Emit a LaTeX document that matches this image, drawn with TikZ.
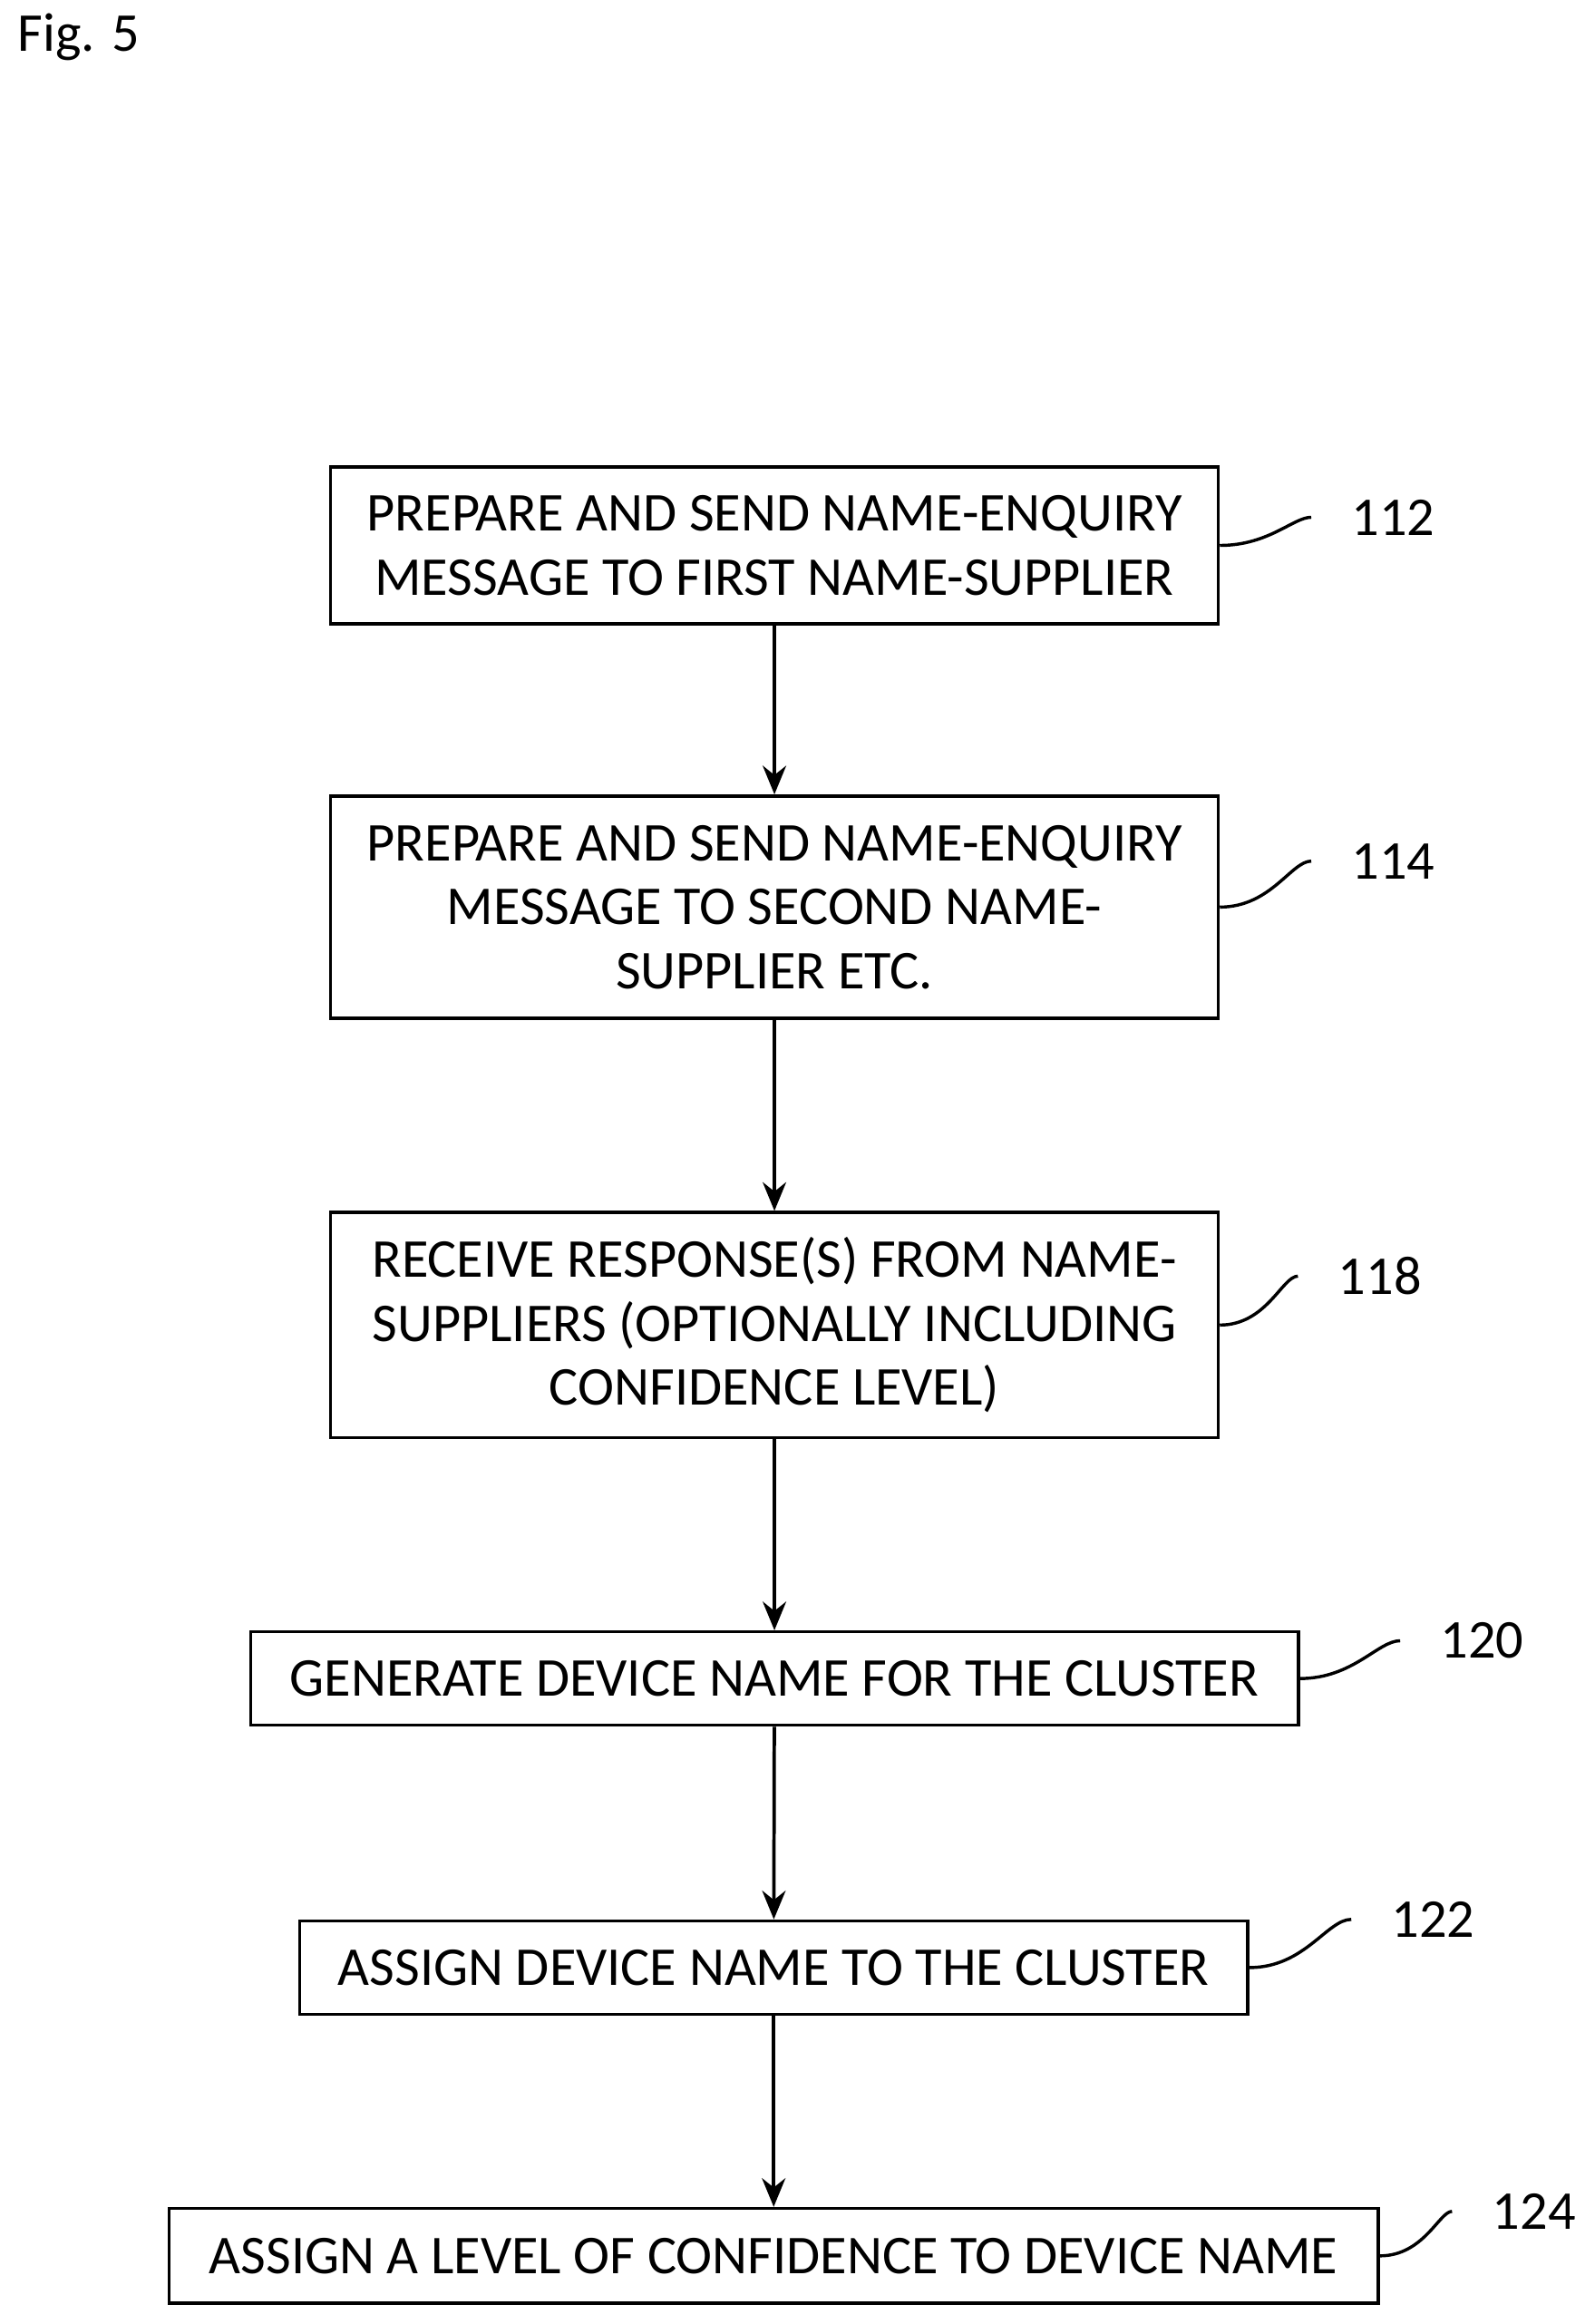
\documentclass[tikz,border=0pt]{standalone}
\usepackage{fontspec}
\setmainfont{Carlito}
\usetikzlibrary{positioning,calc,arrows.meta}
\tikzset{font=\fontsize{21}{24.5}\selectfont}

\begin{document}
\begin{tikzpicture}[x=0.02cm, y=-0.02cm]
	\tikzstyle{stepbox}=[draw, line width=1.2pt, align=center, inner sep=2pt]
	\tikzstyle{flow}=[line width=1.3pt, -{Stealth[length=11pt,width=9pt]}]
	\tikzstyle{tag}=[line width=1.2pt, shorten >=12pt]
	\useasboundingbox (0,0) rectangle (1076,1568);
	\node[anchor=west] (fig) at (6,25) {Fig. 5};

	\node[stepbox, minimum width=11.98cm, minimum height=2.12cm] (s112) at (522.5,368) {PREPARE AND SEND NAME-ENQUIRY\\MESSAGE TO FIRST NAME-SUPPLIER};
	\node[stepbox, minimum width=11.98cm, minimum height=3cm] (s114) at (522.5,612) {PREPARE AND SEND NAME-ENQUIRY\\MESSAGE TO SECOND NAME-\\SUPPLIER ETC.};
	\node[stepbox, minimum width=11.98cm, minimum height=3.04cm] (s118) at (522.5,894) {RECEIVE RESPONSE(S) FROM NAME-\\SUPPLIERS (OPTIONALLY INCLUDING\\CONFIDENCE LEVEL)};
	\node[stepbox, minimum width=14.14cm, minimum height=1.26cm] (s120) at (522.5,1132.5) {GENERATE DEVICE NAME FOR THE CLUSTER};
	\node[stepbox, minimum width=12.8cm, minimum height=1.26cm] (s122) at (522,1327.5) {ASSIGN DEVICE NAME TO THE CLUSTER};
	\node[stepbox, minimum width=16.32cm, minimum height=1.28cm] (s124) at (522,1522) {ASSIGN A LEVEL OF CONFIDENCE TO DEVICE NAME};

	\node (n112) at (940,349) {112};
	\node (n114) at (940,581) {114};
	\node (n118) at (931,861) {118};
	\node (n120) at (1000,1107) {120};
	\node (n122) at (967,1295) {122};
	\node (n124) at (1035,1492) {124};

	\draw[flow] (s112) -- (s114);
	\draw[flow] (s114) -- (s118);
	\draw[flow] (s118) -- (s120);
	\draw[flow] (s120) -- (s122);
	\draw[flow] (s122) -- (s124);

	\draw[tag] (s112.east) to[out=0,in=180] (n112.west);
	\draw[tag] (s114.east) to[out=0,in=180] (n114.west);
	\draw[tag] (s118.east) to[out=0,in=180] (n118.west);
	\draw[tag] (s120.east) to[out=0,in=180] (n120.west);
	\draw[tag] (s122.east) to[out=0,in=180] (n122.west);
	\draw[tag] (s124.east) to[out=0,in=180] (n124.west);
\end{tikzpicture}
\end{document}
